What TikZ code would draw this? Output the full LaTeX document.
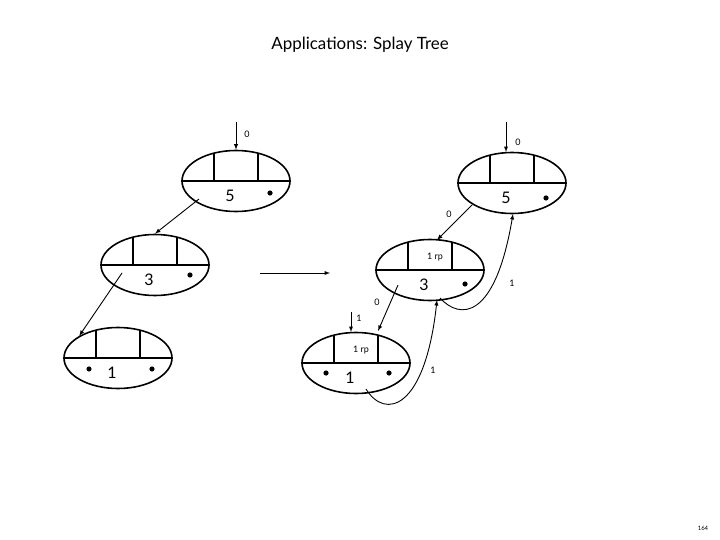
\documentclass[tikz,border=0pt]{standalone}
\usepackage{fontspec}
\setmainfont{Lato}
\usetikzlibrary{arrows,shapes,calc}
\tikzset{
	treenode/.style={ellipse, draw, line width=1.6pt, minimum width=108bp, minimum height=61bp, inner sep=0pt},
	link/.style={-latex, line width=0.9pt},
	tag/.style={font=\fontsize{9}{9}\selectfont, inner sep=1pt}
}
\newcommand{\splaybox}[4]{
	\node[treenode] (#1) at #2 {};
	\draw[line width=1.6pt] (#1.west) -- (#1.east);
	\draw[line width=1.6pt] ($(#1.center)+(-22bp,0)$) -- ++(0,27.4bp);
	\draw[line width=1.6pt] ($(#1.center)+(22bp,0)$) -- ++(0,27.4bp);
	\node[font=\fontsize{16}{16}\selectfont] at ($(#1.center)+(-6bp,-15bp)$) {#3};
	\node[tag] at ($(#1.center)+(5bp,13bp)$) {#4};
}
\newcommand{\dotat}[1]{\fill #1 circle (2.6bp);}
\begin{document}
\begin{tikzpicture}[x=1bp,y=-1bp]
	\useasboundingbox (0,0) rectangle (720,540);
	\node[font=\fontsize{17}{17}\selectfont] (title) at (360,45) {Applications: Splay Tree};
	\node[font=\fontsize{6}{6}\selectfont] (page) at (703,528) {164};
	% left tree
	\splaybox{la}{(236,181)}{5}{};
	\splaybox{lb}{(155,265)}{3}{};
	\splaybox{lc}{(118,358)}{1}{};
	\dotat{(270,193)}
	\dotat{(190,275)}
	\dotat{(89,369)}
	\dotat{(152,369)}
	\coordinate (latop) at (236,122);
	\draw[link] (latop) -- (la.north);
	\node[tag] at (247,134) {0};
	\coordinate (la1) at (199,199);
	\coordinate (lb1) at (122,273);
	\draw[link] (la1) -- (lb.north);
	\draw[link] (lb1) -- (lc.north west);
	% transform arrow
	\coordinate (ga) at (260,273);
	\coordinate (gb) at (330,273);
	\draw[link] (ga) -- (gb);
	% right tree
	\splaybox{ra}{(512,183)}{5}{};
	\splaybox{rb}{(430,270)}{3}{1 rp};
	\splaybox{rc}{(356,363)}{1}{1 rp};
	\dotat{(546,198)}
	\dotat{(465,284)}
	\dotat{(326,373)}
	\dotat{(389,373)}
	\coordinate (ratop) at (506,122);
	\draw[link] (ratop) -- (506,152);
	\node[tag] at (518,142) {0};
	\coordinate (rctop) at (351,312);
	\draw[link] (rctop) -- (351,332);
	\node[tag] at (359,318) {1};
	\coordinate (ra1) at (472,205);
	\coordinate (rb1) at (398,285);
	\draw[link] (ra1) -- (437,240);
	\node[tag] at (449,214) {0};
	\draw[link] (rb1) -- (378,331);
	\node[tag] at (377,302) {0};
	\coordinate (rb2) at (440,298);
	\coordinate (rc2) at (366,389);
	\draw[link] (rb2) .. controls (460,320) and (495,320) .. (513,214);
	\node[tag] at (512,283) {1};
	\draw[link] (rc2) .. controls (385,420) and (425,410) .. (437,300);
	\node[tag] at (433,370) {1};
\end{tikzpicture}
\end{document}
